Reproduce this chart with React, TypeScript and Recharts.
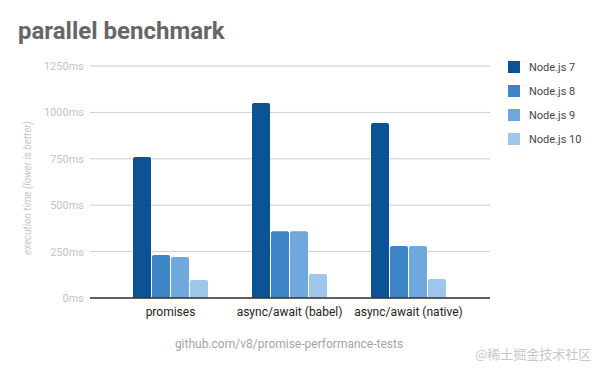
import React from 'react';
import { BarChart, Bar, XAxis, YAxis, CartesianGrid } from 'recharts';

const categories = ['promises', 'async/await (babel)', 'async/await (native)'];
const node7 = [760, 1051, 943];
const node8 = [232, 359, 280];
const node9 = [221, 359, 280];
const node10 = [97, 129, 102];
const yTicks = [0, 250, 500, 750, 1000, 1250];

const seriesNames = ['Node.js 7', 'Node.js 8', 'Node.js 9', 'Node.js 10'];
const seriesColors = ['#0b5394', '#3d85c6', '#6fa8dc', '#9fc5e8'];

const data = categories.map((name, i) => ({
  name,
  n7: node7[i],
  n8: node8[i],
  n9: node9[i],
  n10: node10[i],
}));

const keys = ['n7', 'n8', 'n9', 'n10'];

const font = 'Roboto, "Noto Sans", sans-serif';

const LegendBox: React.FC = () => (
  <div style={{ position: 'absolute', left: 508, top: 55 }}>
    {seriesNames.map((n, i) => (
      <div key={n} style={{ display: 'flex', alignItems: 'center', height: 24 }}>
        <div style={{ width: 12, height: 12, background: seriesColors[i], marginRight: 9 }} />
        <span style={{ fontSize: 11, color: '#444', fontFamily: font }}>{n}</span>
      </div>
    ))}
  </div>
);

const YLabel: React.FC<any> = () => (
  <text
    x={27}
    y={188}
    transform="rotate(-90 27 188)"
    textAnchor="middle"
    dominantBaseline="central"
    fontSize={10}
    fontStyle="italic"
    fill="#c4c4c4"
    fontFamily={font}
  >
    execution time (lower is better)
  </text>
);

export default function App() {
  return (
    <div style={{ position: 'absolute', left: 0, top: 0, width: 600, height: 371, background: '#fff', fontFamily: font }}>
      <div style={{ position: 'absolute', left: 18, top: 17, fontSize: 24, fontWeight: 700, color: '#666' }}>
        parallel benchmark
      </div>
      <BarChart
        width={600}
        height={371}
        data={data}
        margin={{ top: 66, right: 110, bottom: 43, left: 0 }}
        barSize={18}
        barGap={1}
      >
        <CartesianGrid vertical={false} stroke="#cccccc" />
        <XAxis
          dataKey="name"
          height={30}
          interval={0}
          padding={{ left: 21, right: 22 }}
          tickLine={false}
          tickSize={0}
          tickMargin={9}
          axisLine={{ stroke: '#333', strokeWidth: 1.5 }}
          tick={{ fontSize: 12, fill: '#222', fontFamily: font }}
        />
        <YAxis
          width={90}
          domain={[0, 1250]}
          ticks={yTicks}
          tickFormatter={(v: number) => `${v}ms`}
          tickLine={false}
          axisLine={false}
          tickSize={0}
          tickMargin={6}
          tick={{ fontSize: 11, fill: '#c4c4c4', fontFamily: font }}
          label={<YLabel />}
        />
        {keys.map((k, i) => (
          <Bar key={k} dataKey={k} name={seriesNames[i]} fill={seriesColors[i]} radius={[2, 2, 0, 0]} isAnimationActive={false} />
        ))}
      </BarChart>
      <LegendBox />
      <div style={{ position: 'absolute', left: 0, width: 578, top: 337, textAlign: 'center', fontSize: 12, color: '#a6a6a6' }}>
        github.com/v8/promise-performance-tests
      </div>
      <div style={{ position: 'absolute', left: 475, top: 344, fontSize: 13, color: '#c8c8c8', fontFamily: '"Noto Sans CJK SC", sans-serif' }}>
        @稀土掘金技术社区
      </div>
    </div>
  );
}
